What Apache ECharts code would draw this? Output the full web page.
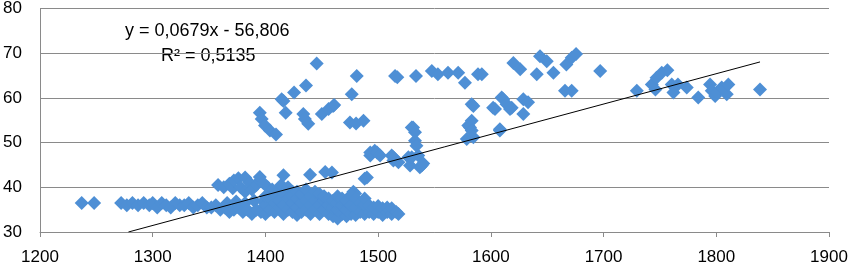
<!DOCTYPE html>
<html>
<head>
<meta charset="utf-8">
<script src="https://cdn.jsdelivr.net/npm/echarts@6/dist/echarts.min.js"></script>
<style>
  html, body { margin: 0; padding: 0; background: #fff; }
  #chart { width: 851px; height: 266px; }
</style>
</head>
<body>
<div id="chart"></div>
<script>
// trend line coefficients (as printed on the chart)
const slope = 0.0679;
const intercept = -56.806;
const eqLabel = 'y = 0,0679x - 56,806';
const r2Label = 'R² = 0,5135';

// long flat band at the left
const leftBand = [
  [1237,36.5],[1248,36.5],
  [1272,36.5],[1277,36],[1282,36.5],[1287,36],[1292,36.5],[1297,36],[1300,36.5],[1304,35.5],
  [1308,36.5],[1312,36],[1316,35.5],[1320,36.5],[1324,36],[1328,36],[1332,36.5],[1336,35.5],
  [1340,36],[1344,36.5],[1348,35.5],[1352,35.5],[1356,36],[1360,35],[1364,35.5],[1366,36.5],
  [1368,34.5],[1372,35],[1374,36.8],[1376,35.5],[1380,34.5],[1382,36.5],[1384,35],[1388,34],
  [1390,37],[1392,35],[1396,34.5],[1398,36.8],[1400,35.5]
];

// upper row around 40
const upperRow = [
  [1358,40.5],[1363,40],[1368,40.8],[1371,39.8],[1372,41.5],[1376,42],[1378,40],[1382,42.2],
  [1382,39],[1386,41],[1388,39.5],[1392,40.5],[1395,41.5],[1395,42.3],[1398,41],[1402,40],
  [1406,39.5],[1410,39],[1414,40.5],[1416,42.7],[1419,39.3],[1420,40],[1424,39],[1428,38.2],
  [1439.6,42.8],[1453,43.4],[1459,43.3],[1478,39],[1479.5,38.6],[1488,41.9],[1490,42.2]
];

// dense cluster 1400-1520
const denseCluster = [
  [1400,34],[1400,36],[1400,38],[1404,35],[1404,37.5],[1408,34.5],[1408,36.5],[1408,38.5],
  [1412,35.5],[1412,37],[1416,34],[1416,36],[1416,38.5],[1420,35],[1420,37.5],[1424,34.5],
  [1424,36.5],[1424,38],[1428,33.8],[1428,35.5],[1428,37.5],[1428,39],[1432,34.5],[1432,36.5],
  [1432,38.5],[1436,35],[1436,37],[1436,39.5],[1440,34],[1440,36],[1440,38],[1444,35],
  [1444,37],[1444,39],[1448,34],[1448,36],[1448,38.5],[1452,35],[1452,37],[1452,38],
  [1456,34],[1456,36],[1456,37.5],[1460,33.5],[1460,35.5],[1460,37],[1464,33],[1464,35],
  [1464,36.5],[1464,38],[1468,34],[1468,36],[1468,37.5],[1472,33.5],[1472,35],[1472,37],
  [1476,34],[1476,36],[1476,38.3],[1480,33.8],[1480,35.5],[1480,37.5],[1484,34.5],[1484,36.5],
  [1488,34],[1488,36],[1488,37.5],[1492,34.5],[1492,36],[1496,34],[1496,35.5],[1500,34.5],
  [1500,35.8],[1504,33.8],[1504,35.3],[1508,34.5],[1508,35.5],[1512,34],[1512,35.3],[1516,34.5],
  [1518,34]
];

// rising middle group
const middleGroup = [
  [1493,47.1],[1493,47.8],[1497,48.2],[1499,47.8],[1501.7,47.1],[1512,47.1],[1513.5,46],
  [1513.5,46.7],[1518,45.6],[1526.8,46.7],[1528.3,44.9],[1529.8,46.7],[1529.8,53.4],[1531,53.4],
  [1532.7,52.3],[1532.7,50.4],[1534,49.3],[1535.6,47.1],[1537,44.5],[1538.7,44.9],[1540,45.3],
  [1578.6,50.8],[1581.5,53.4],[1580,53.8],[1583,54.9],[1583,52.7],[1584.5,51.2],[1583,58.6],
  [1584.5,58.2],[1602,57.8],[1603.7,57.5],[1608,52.7],[1608,53],[1609.6,60.1],[1611,59.7],
  [1614,58.6],[1617,57.5],[1618.5,57.8],[1628.8,59.7],[1633,59],[1628.8,56.4]
];

// scattered points between 50 and 70
const highGroup = [
  [1395,56.7],[1396.7,55.3],[1399.6,53.8],[1404,52.7],[1409.4,51.8],[1414.4,59.7],[1416,59.3],
  [1418,56.7],[1425.4,61.2],[1433.6,56.4],[1435,55.3],[1436,62.8],[1438,54.2],[1445.5,67.7],
  [1450,56.4],[1456,57.5],[1460,58.2],[1461,58.4],[1475,54.5],[1476.6,60.8],[1480.4,54.3],
  [1481,64.9],[1487,54.9],[1515,64.9],[1517,64.6],[1533.6,64.9],[1547.6,66],[1553,65.3],
  [1562,65.6],[1571,65.6],[1577,63.4],[1588.6,65.3],[1592,65.3],[1620,67.8],[1626,66.4],
  [1640.7,65.3],[1643.6,69.3],[1649.6,68.2],[1655.5,65.6],[1665.8,61.6],[1667,67.5],
  [1671.7,69],[1671.7,61.6],[1675.6,69.8],[1697,66]
];

// right-hand group
const rightGroup = [
  [1729.5,61.6],[1742.8,63],[1746,61.9],[1747,64.5],[1751.6,65.6],[1756.6,66.2],[1760.5,63],
  [1762,61.2],[1766,63],[1773.8,62.3],[1784,60.1],[1794.5,63],[1796,61.6],[1799,60.4],
  [1800.4,61.2],[1804.8,62.3],[1809.3,60.8],[1810.7,63],[1838.8,61.9]
];

const allPoints = leftBand.concat(upperRow, denseCluster, middleGroup, highGroup, rightGroup);

const xs = allPoints.map(p => p[0]);
const trendStart = Math.max(Math.min(...xs), (30 - intercept) / slope);
const trendEnd = Math.max(...xs);
const trendLine = [
  [trendStart, slope * trendStart + intercept],
  [trendEnd, slope * trendEnd + intercept]
];

const font = 'Liberation Sans';

const getOption = () => {
  return {
    animation: false,
    grid: { left: 40, right: 22, top: 7, bottom: 34 },
    xAxis: {
      type: 'value',
      min: 1200,
      max: 1900,
      interval: 100,
      axisLine: { show: true, lineStyle: { color: '#8a8a8a', width: 1 } },
      axisTick: { show: true, length: 5, lineStyle: { color: '#8a8a8a' } },
      axisLabel: {
        color: '#000', fontFamily: font, fontSize: 17, margin: 17,
        formatter: v => String(v)
      },
      splitLine: { show: false }
    },
    yAxis: {
      type: 'value',
      min: 30,
      max: 80,
      interval: 10,
      axisLine: { show: true, lineStyle: { color: '#8a8a8a', width: 1 } },
      axisTick: { show: false },
      axisLabel: { color: '#000', fontFamily: font, fontSize: 17, margin: 18 },
      splitLine: { show: true, lineStyle: { color: '#8a8a8a', width: 1 } }
    },
    graphic: [
      {
        type: 'text', left: 125, top: 22,
        style: { text: eqLabel, fill: '#000', font: '18px "Liberation Sans"' }
      },
      {
        type: 'text', left: 161, top: 47,
        style: { text: r2Label, fill: '#000', font: '18px "Liberation Sans"' }
      }
    ],
    series: [
      {
        type: 'scatter',
        data: allPoints,
        symbol: 'diamond',
        symbolSize: 14,
        itemStyle: { color: '#4E8FD5', opacity: 1 },
        z: 2
      },
      {
        type: 'line',
        data: trendLine,
        symbol: 'none',
        lineStyle: { color: '#000', width: 1 },
        z: 3
      }
    ]
  };
};

const chart = echarts.init(document.getElementById('chart'));
chart.setOption(getOption());
</script>
</body>
</html>
